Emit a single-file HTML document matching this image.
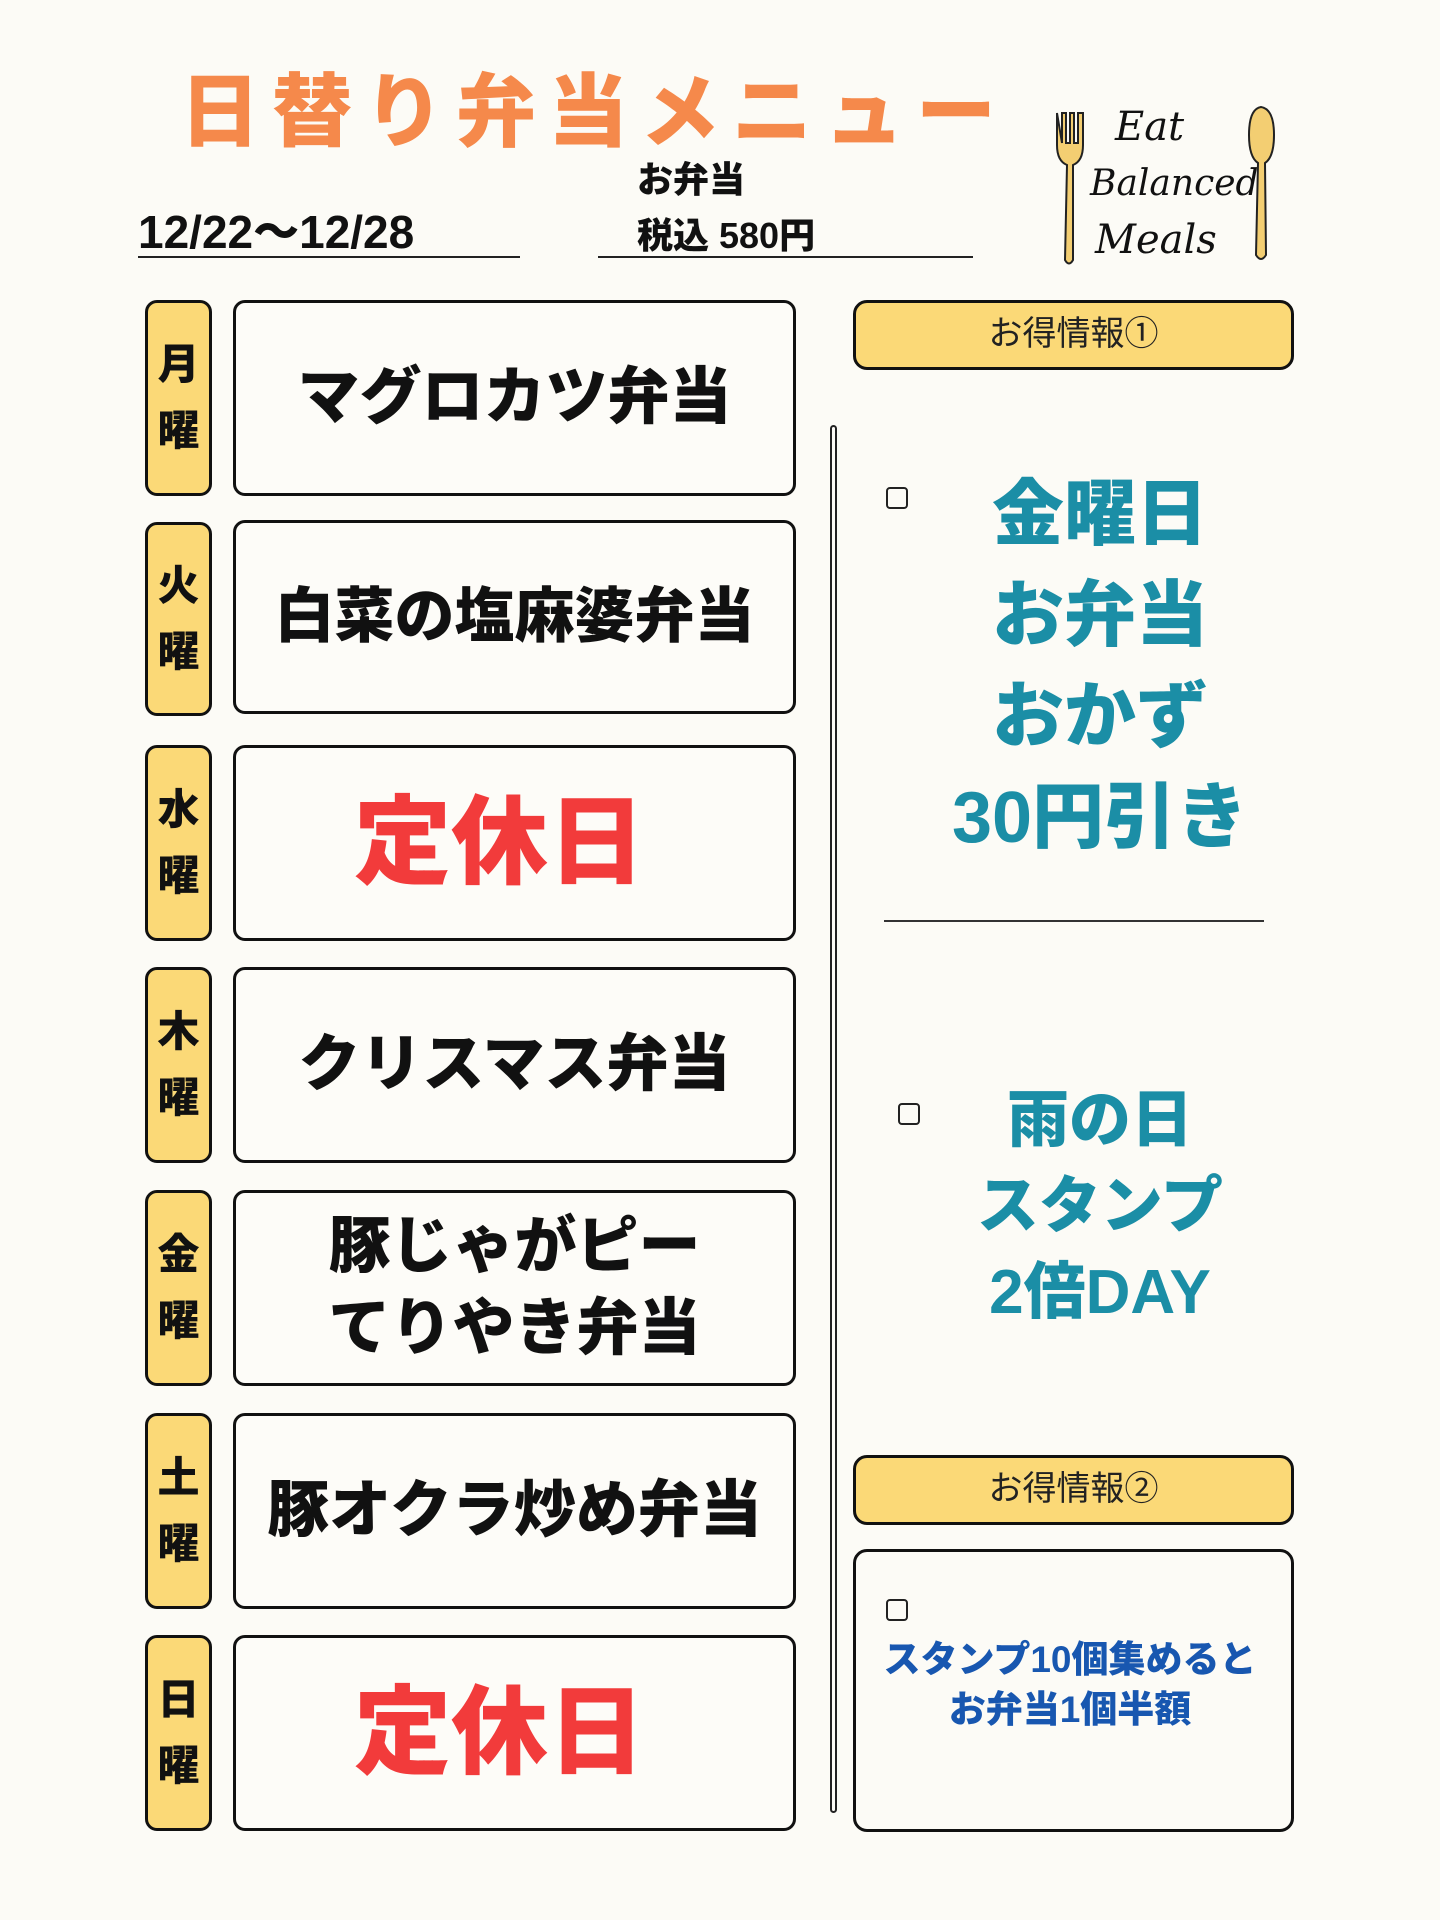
<!DOCTYPE html>
<html><head><meta charset="utf-8"><style>
body{margin:0;width:1440px;height:1920px;background:#fcfbf6;position:relative;overflow:hidden;font-family:"Liberation Sans","Noto Sans CJK JP",sans-serif}
.a{position:absolute}
.day{position:absolute;left:145px;width:67px;background:#fbd977;border:3px solid #111;border-radius:12px;box-sizing:border-box;display:flex;flex-direction:column;align-items:center;justify-content:center;font-weight:900;font-size:42px;line-height:66px;color:#111}
.menu{position:absolute;left:233px;width:563px;border:3px solid #111;border-radius:12px;box-sizing:border-box;background:#fdfcf8;display:flex;align-items:center;justify-content:center;text-align:center;font-weight:900;font-size:62px;line-height:82px;color:#111}
.red{color:#f23b3b;font-size:97px;padding-right:30px}
.hdr{position:absolute;left:853px;width:441px;height:70px;background:#fbd977;border:3px solid #111;border-radius:14px;box-sizing:border-box;text-align:center;font-size:34px;line-height:62px;color:#222}
.cb{position:absolute;width:22px;height:22px;border:2.5px solid #222;border-radius:4px;box-sizing:border-box}
.blue{position:absolute;text-align:center;font-weight:900;color:#1b8ea6}
</style></head><body>
<div class="a" style="left:180px;top:48px;font-size:80px;font-weight:900;color:#f5894b;letter-spacing:12px;white-space:nowrap">日替り弁当メニュー</div>
<div class="a" style="left:138px;top:196px;font-size:46px;font-weight:900;color:#111">12/22〜12/28</div>
<div class="a" style="left:138px;top:256px;width:382px;height:2px;background:#222"></div>
<div class="a" style="left:637px;top:152px;font-size:36px;font-weight:900;color:#111;line-height:56px">お弁当<br>税込 580円</div>
<div class="a" style="left:598px;top:256px;width:375px;height:2px;background:#222"></div>
<svg class="a" style="left:1045px;top:95px" width="245" height="175" viewBox="0 0 245 175">
<path d="M12 18 L12 50 Q12 66 22 70 L20 165 Q24 172 28 165 L28 70 Q38 66 38 50 L38 18 L33 18 L33 48 L29 48 L29 18 L25 18 L25 48 L21 48 L21 18 L17 18 L17 48 Z" fill="#f3ce72" stroke="#222" stroke-width="2"/>
<path d="M216 12 Q204 14 204 40 Q204 62 213 68 L211 160 Q216 168 221 160 L220 68 Q229 62 229 40 Q229 14 216 12Z" fill="#f3ce72" stroke="#222" stroke-width="2"/>
<text x="70" y="45" font-family="DejaVu Serif,serif" font-style="italic" font-size="40" fill="#111">Eat</text>
<text x="45" y="100" font-family="DejaVu Serif,serif" font-style="italic" font-size="36" fill="#111">Balanced</text>
<text x="50" y="158" font-family="DejaVu Serif,serif" font-style="italic" font-size="40" fill="#111">Meals</text>
</svg>
<div class="day" style="top:300px;height:196px"><span>月</span><span>曜</span></div>
<div class="day" style="top:522px;height:194px"><span>火</span><span>曜</span></div>
<div class="day" style="top:745px;height:196px"><span>水</span><span>曜</span></div>
<div class="day" style="top:967px;height:196px"><span>木</span><span>曜</span></div>
<div class="day" style="top:1190px;height:196px"><span>金</span><span>曜</span></div>
<div class="day" style="top:1413px;height:196px"><span>土</span><span>曜</span></div>
<div class="day" style="top:1635px;height:196px"><span>日</span><span>曜</span></div>
<div class="menu" style="top:300px;height:196px">マグロカツ弁当</div>
<div class="menu" style="top:520px;height:194px;font-size:60px">白菜の塩麻婆弁当</div>
<div class="menu red" style="top:745px;height:196px">定休日</div>
<div class="menu" style="top:967px;height:196px">クリスマス弁当</div>
<div class="menu" style="top:1190px;height:196px">豚じゃがピー<br>てりやき弁当</div>
<div class="menu" style="top:1413px;height:196px">豚オクラ炒め弁当</div>
<div class="menu red" style="top:1635px;height:196px">定休日</div>
<div class="a" style="left:830px;top:425px;width:7px;height:1388px;border:2px solid #222;border-radius:4px;box-sizing:border-box"></div>
<div class="hdr" style="top:300px">お得情報①</div>
<div class="cb" style="left:886px;top:487px"></div>
<div class="blue" style="left:900px;width:400px;top:465px;font-size:72px;line-height:101px">金曜日<br>お弁当<br>おかず<br>30円引き</div>
<div class="a" style="left:884px;top:920px;width:380px;height:2px;background:#333"></div>
<div class="cb" style="left:898px;top:1103px"></div>
<div class="blue" style="left:900px;width:400px;top:1078px;font-size:62px;line-height:86px">雨の日<br>スタンプ<br>2倍DAY</div>
<div class="hdr" style="top:1455px">お得情報②</div>
<div class="a" style="left:853px;top:1549px;width:441px;height:283px;border:3px solid #111;border-radius:14px;box-sizing:border-box"></div>
<div class="cb" style="left:886px;top:1599px"></div>
<div class="blue" style="left:860px;width:420px;top:1635px;font-size:37px;line-height:50px;color:#1857b0">スタンプ10個集めると<br>お弁当1個半額</div>
</body></html>
